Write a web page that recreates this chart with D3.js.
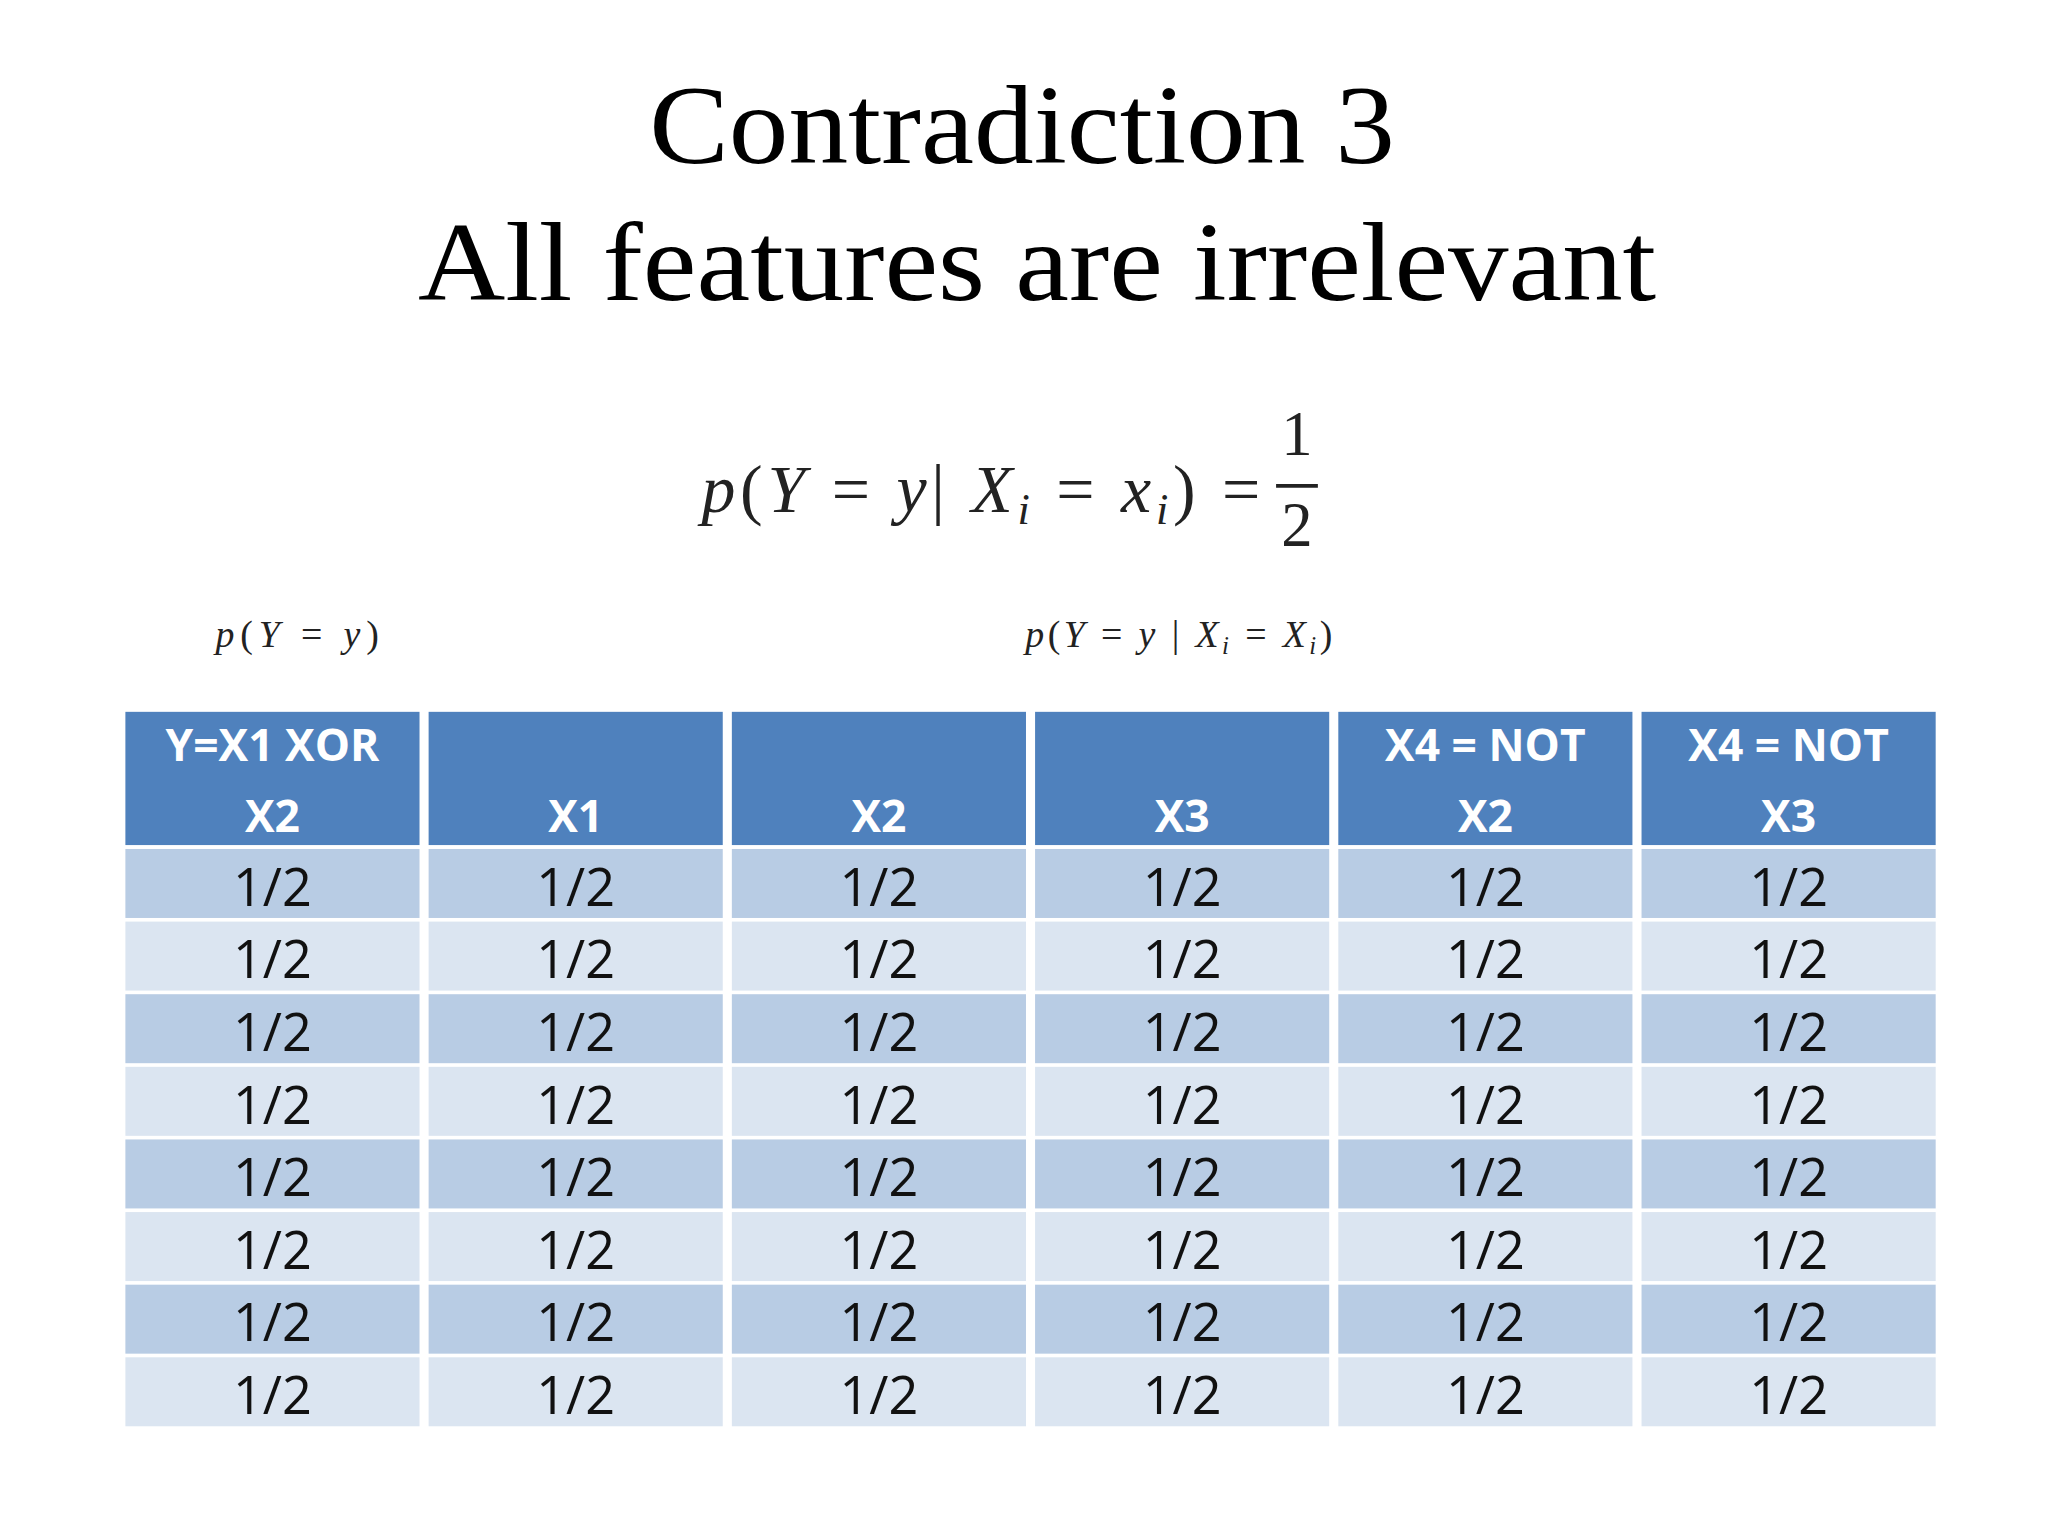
<!DOCTYPE html>
<html><head><meta charset="utf-8">
<script src="https://cdn.jsdelivr.net/npm/d3@7"></script>
<style>body{margin:0;background:#fff}</style></head>
<body><svg id="c" width="2048" height="1536" viewBox="0 0 1568 1176"></svg>
<script>
const titleLines = ["Contradiction 3", "All features are irrelevant"];
const headers = [["Y=X1 XOR","X2"],["","X1"],["","X2"],["","X3"],["X4 = NOT","X2"],["X4 = NOT","X3"]];
const rowValues = [
 ["1/2","1/2","1/2","1/2","1/2","1/2"],
 ["1/2","1/2","1/2","1/2","1/2","1/2"],
 ["1/2","1/2","1/2","1/2","1/2","1/2"],
 ["1/2","1/2","1/2","1/2","1/2","1/2"],
 ["1/2","1/2","1/2","1/2","1/2","1/2"],
 ["1/2","1/2","1/2","1/2","1/2","1/2"],
 ["1/2","1/2","1/2","1/2","1/2","1/2"],
 ["1/2","1/2","1/2","1/2","1/2","1/2"]
];
const titleWidths = [571, 948];
const svg = d3.select("#c");
const serif = "Liberation Serif, DejaVu Serif, serif";
svg.selectAll("text.title").data(titleLines).join("text")
  .attr("x",(d,i)=>i===0?497:320).attr("y",(d,i)=>125+i*105)
  .attr("textLength",(d,i)=>titleWidths[i]).attr("lengthAdjust","spacingAndGlyphs")
  .attr("font-family",serif).attr("font-size",86).attr("fill","#000").text(d=>d);

// formula
const f = svg.append("text").attr("x",537).attr("y",392).attr("font-family",serif).attr("font-size",52).attr("fill","#222")
  .attr("textLength",428).attr("lengthAdjust","spacing");
f.append("tspan").attr("font-style","italic").text("p");
f.append("tspan").text("(");
f.append("tspan").attr("font-style","italic").text("Y");
f.append("tspan").text(" = ");
f.append("tspan").attr("font-style","italic").text("y");
f.append("tspan").text("| ");
f.append("tspan").attr("font-style","italic").text("X");
f.append("tspan").attr("font-style","italic").attr("font-size",34).attr("dy",9).text("i");
f.append("tspan").attr("dy",-9).text(" = ");
f.append("tspan").attr("font-style","italic").text("x");
f.append("tspan").attr("font-style","italic").attr("font-size",34).attr("dy",9).text("i");
f.append("tspan").attr("dy",-9).text(") =");
svg.append("text").attr("x",993).attr("y",348).attr("text-anchor","middle").attr("font-family",serif).attr("font-size",48).attr("fill","#222").text("1");
svg.append("line").attr("x1",977).attr("x2",1009).attr("y1",372).attr("y2",372).attr("stroke","#222").attr("stroke-width",3);
svg.append("text").attr("x",993).attr("y",418).attr("text-anchor","middle").attr("font-family",serif).attr("font-size",48).attr("fill","#222").text("2");

// small labels
function small(x, w, parts){
  const t = svg.append("text").attr("x",x).attr("y",495).attr("font-family",serif).attr("font-size",29).attr("fill","#222")
    .attr("textLength",w).attr("lengthAdjust","spacing");
  parts.forEach(p=>{const s=t.append("tspan").text(p[0]); if(p[1]) s.attr("font-style","italic"); if(p[2]) s.attr("font-size",19).attr("dy",p[2]); if(p[3]) s.attr("dy",p[3]);});
}
small(165,125,[["p",1],["("],["Y",1],[" = "],["y",1],[")"]]);
small(785,235,[["p",1],["("],["Y",1],[" = "],["y",1],[" | "],["X",1],["i",1,6],[" = ",0,0,-6],["X",1],["i",1,6],[")",0,0,-6]]);

// table
const x = d3.scaleBand().domain(d3.range(headers.length)).range([96,1482]).paddingInner(0.03);
const y = d3.scaleBand().domain(d3.range(rowValues.length)).range([650,1092]).paddingInner(0.05);
const font = "Open Sans, Lato, sans-serif";
const hg = svg.append("g");
headers.forEach((h,i)=>{
  hg.append("rect").attr("x",x(i)).attr("y",545).attr("width",x.bandwidth()).attr("height",102).attr("fill","#4f81bd");
  h.forEach((l,j)=>{ if(l) hg.append("text").attr("x",x(i)+x.bandwidth()/2).attr("y",583+j*54)
    .attr("text-anchor","middle").attr("font-family",font).attr("font-weight","bold").attr("font-size",34).attr("fill","#fff").text(l);});
});
rowValues.forEach((r,ri)=>{
  r.forEach((v,ci)=>{
    svg.append("rect").attr("x",x(ci)).attr("y",y(ri)).attr("width",x.bandwidth()).attr("height",y.bandwidth())
      .attr("fill", ri%2===0 ? "#b8cce4" : "#dbe5f1");
    svg.append("text").attr("x",x(ci)+x.bandwidth()/2).attr("y",y(ri)+y.bandwidth()/2+17)
      .attr("text-anchor","middle").attr("font-family",font).attr("font-size",40).attr("fill","#111").text(v);
  });
});
</script></body></html>
